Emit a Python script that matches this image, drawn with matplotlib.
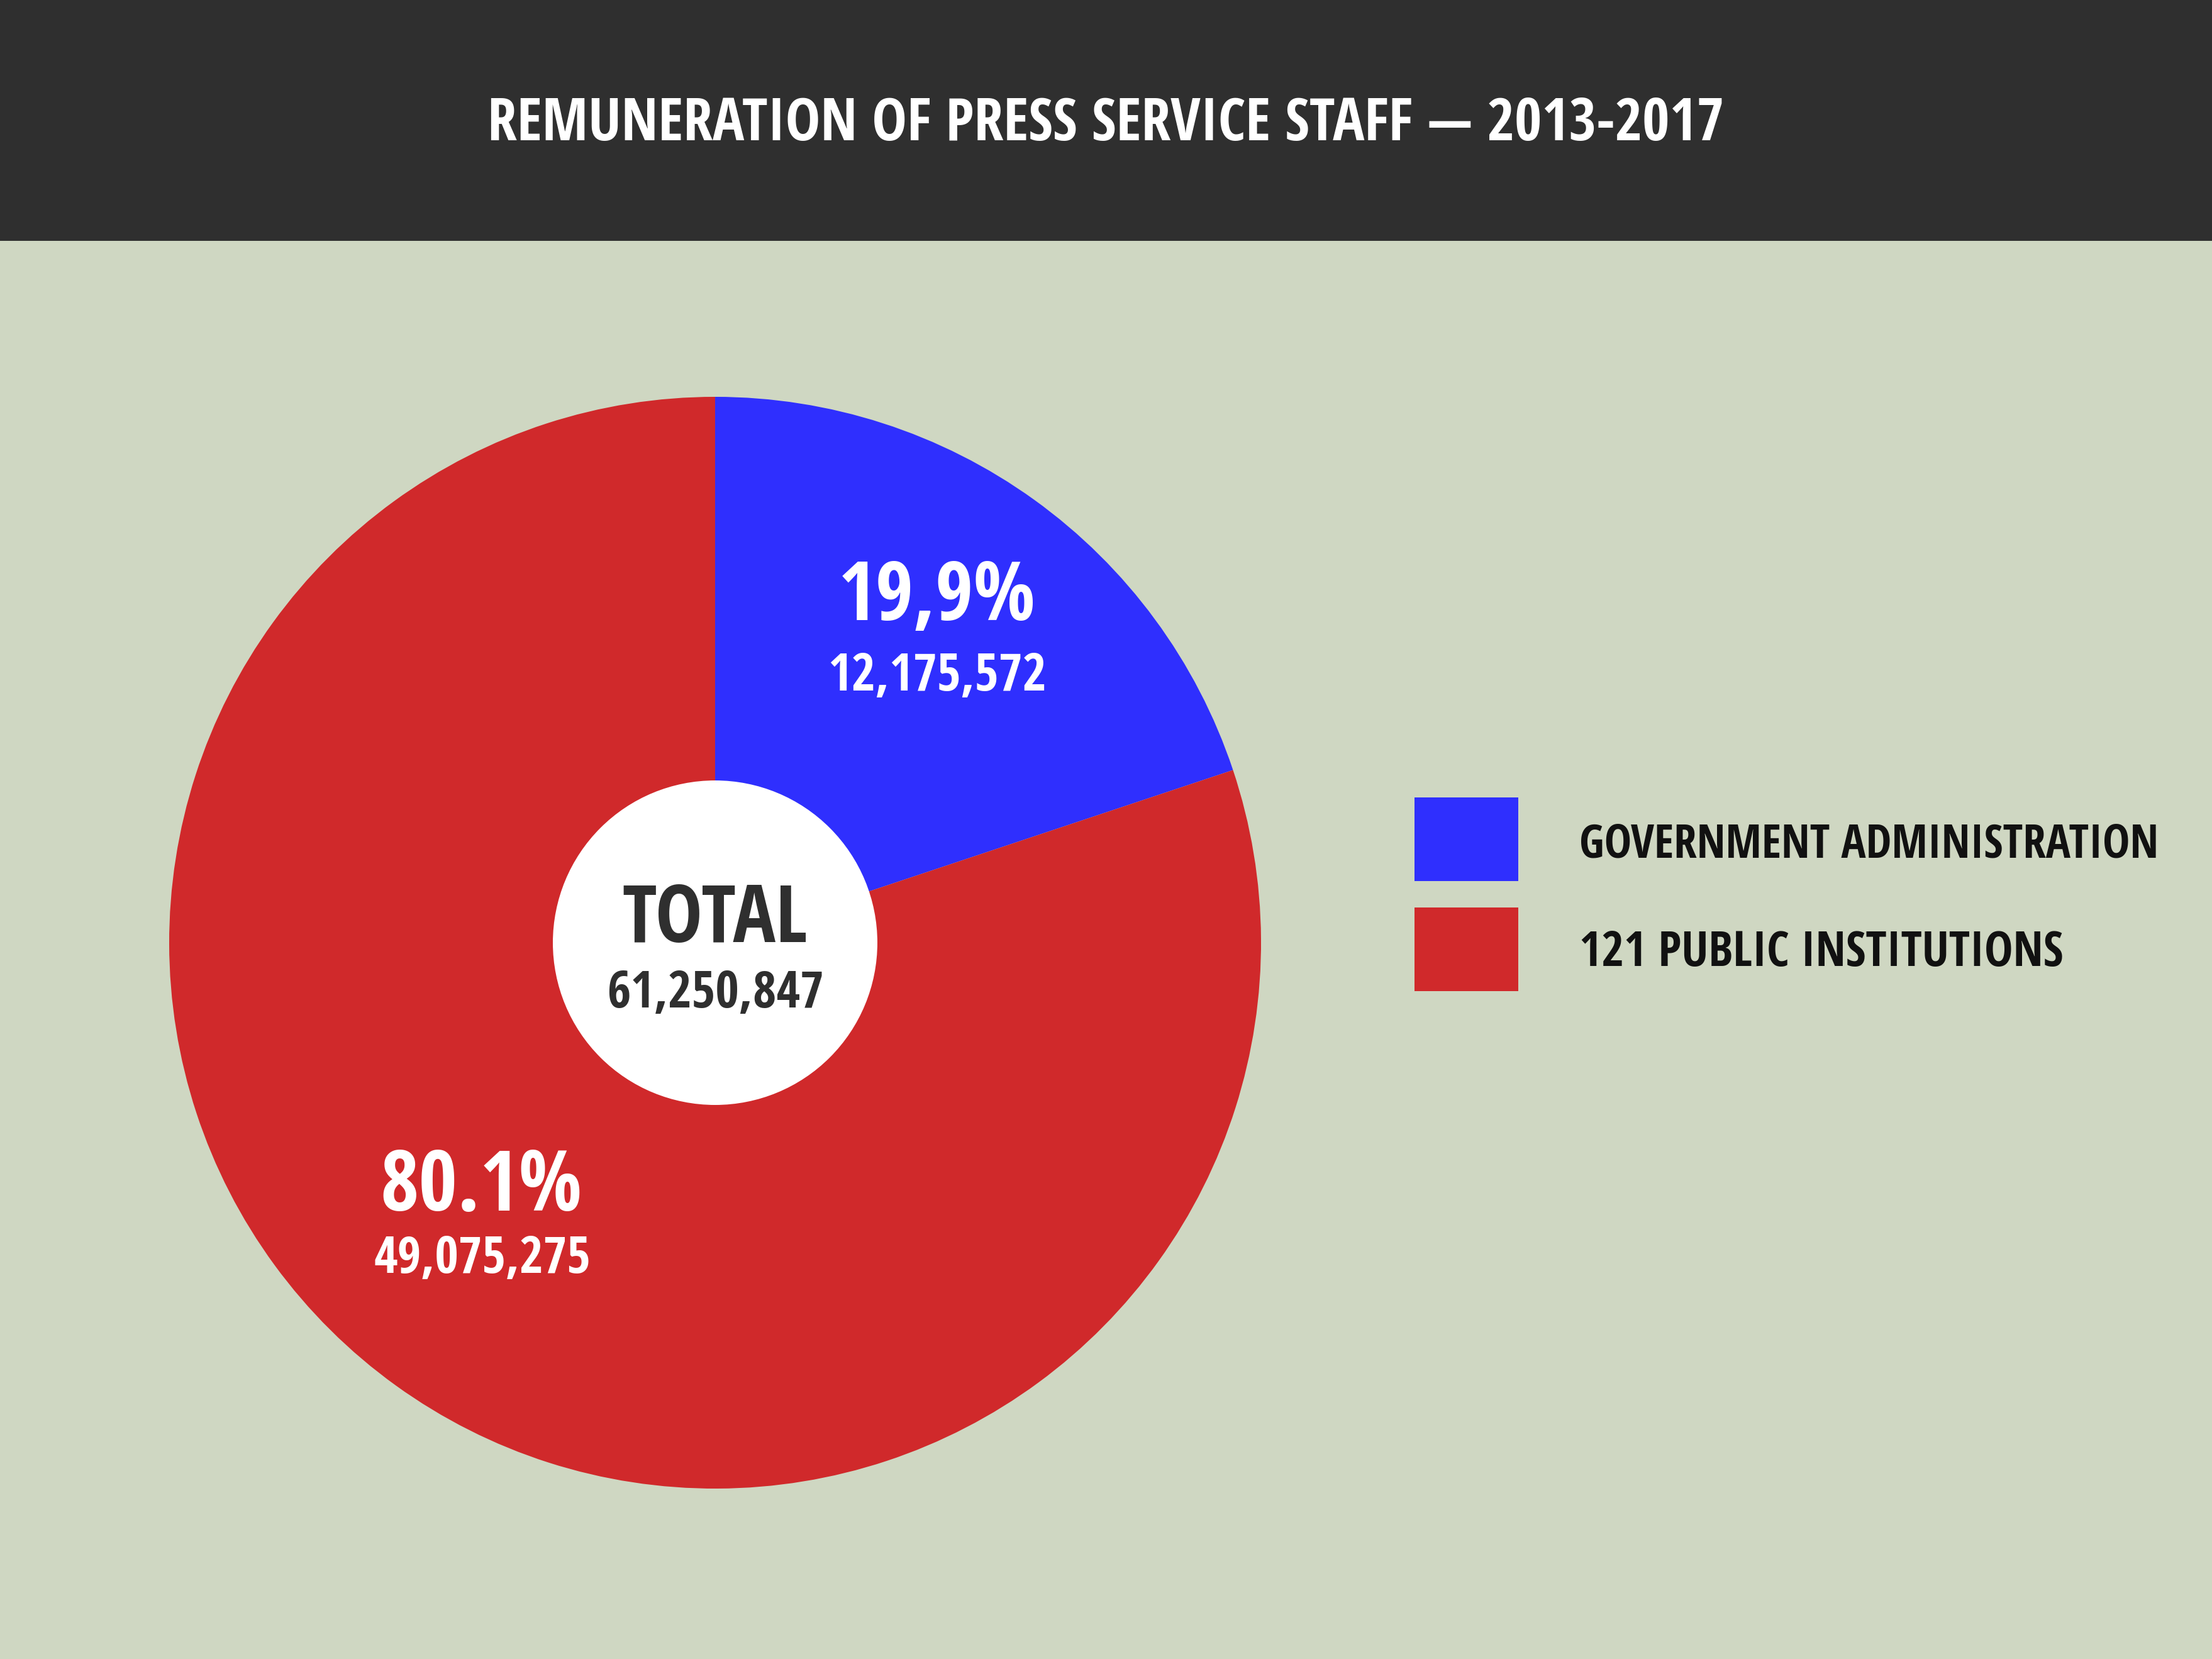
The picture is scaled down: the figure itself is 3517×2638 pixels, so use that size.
import matplotlib
matplotlib.use("Agg")
import matplotlib.pyplot as plt
from matplotlib import font_manager as fm
from matplotlib.patches import Rectangle, Circle
from matplotlib.textpath import TextPath
from matplotlib.font_manager import FontProperties

# ---------------- data ----------------
title = "REMUNERATION OF PRESS SERVICE STAFF — 2013-2017"
categories = ["GOVERNMENT ADMINISTRATION", "121 PUBLIC INSTITUTIONS"]
values = [12175572, 49075275]
pct_labels = ["19,9%", "80.1%"]
value_labels = ["12,175,572", "49,075,275"]
total_label = "TOTAL"
total_value = "61,250,847"
colors = ["#2f2ffe", "#d0292b"]

# ---------------- figure ----------------
W, H, DPI = 3517, 2638, 100
BG = "#cfd7c2"
HEADER = "#2f2f2f"


def _wnum(w):
    if isinstance(w, str):
        return {"bold": 700, "heavy": 800, "black": 900, "semibold": 600,
                "demibold": 600, "extra bold": 800}.get(w.lower(), 400)
    return w


bold_names = {f.name for f in fm.fontManager.ttflist if _wnum(f.weight) >= 600}


def pick_font():
    prefs = ["ExtraCondensed", "Extra Condensed", "Compressed"]
    for p in prefs:
        for n in sorted(bold_names):
            if p in n and ("Noto Sans" in n or "Open Sans" in n or "Roboto" in n):
                return n
    for c in ["Open Sans Condensed", "Roboto Condensed", "Noto Sans Condensed",
              "Liberation Sans Narrow"]:
        if c in bold_names:
            return c
    return "DejaVu Sans"


FONT = pick_font()
fp = FontProperties(family=FONT, weight="bold")
CAPR = TextPath((0, 0), "H", size=1, prop=fp).get_extents().height

fig = plt.figure(figsize=(W / DPI, H / DPI), dpi=DPI, facecolor=BG)
ax = fig.add_axes([0, 0, 1, 1])


def Y(y):
    return H - y


# pie
cx, cy, R, r_in = 1137, 1499, 868, 258
ax.pie(values, colors=colors, startangle=90, counterclock=False,
       center=(cx, Y(cy)), radius=R, wedgeprops=dict(linewidth=0),
       frame=True)
ax.set_xlim(0, W)
ax.set_ylim(0, H)
ax.set_aspect("equal")
ax.axis("off")
ax.add_patch(Circle((cx, Y(cy)), r_in, color="white", lw=0, zorder=5))

# header band
ax.add_patch(Rectangle((0, Y(383)), W, 383, color=HEADER, lw=0, zorder=1))

fig.canvas.draw()
rend = fig.canvas.get_renderer()


def place(s, x, ycen, cap, width, color, ha="center"):
    fs = cap / CAPR / (DPI / 72)
    t = ax.text(x, Y(ycen), s, fontsize=fs, color=color, ha=ha, va="baseline",
                family=FONT, weight="bold", zorder=10)
    w = t.get_window_extent(rend).width
    if w > width:
        fs *= width / w
        t.set_fontsize(fs)
    capn = fs * (DPI / 72) * CAPR
    t.set_y(Y(ycen + capn / 2))
    return t


# title
place(title, W / 2, 190, 72, 1967, "white")

# slice labels
place(pct_labels[0], 1490, 940, 101, 314, "white")
place(value_labels[0], 1490, 1069, 59, 347, "white")
place(pct_labels[1], 765, 1878, 100, 321, "white")
place(value_labels[1], 767, 1995, 58, 354, "white")

# total
place(total_label, 1137, 1453, 100, 295, HEADER)
place(total_value, 1138, 1573, 58, 349, HEADER)

# legend
leg_y = [1268, 1443]
leg_text_y = [1337, 1509]
leg_w = [920, 769]
for i, cat in enumerate(categories):
    ax.add_patch(Rectangle((2249, Y(leg_y[i] + 133)), 165, 133,
                           color=colors[i], lw=0, zorder=3))
    place(cat, 2511, leg_text_y[i], 60, leg_w[i], "#111111", ha="left")

fig.savefig("out.png", dpi=DPI, facecolor=BG)
